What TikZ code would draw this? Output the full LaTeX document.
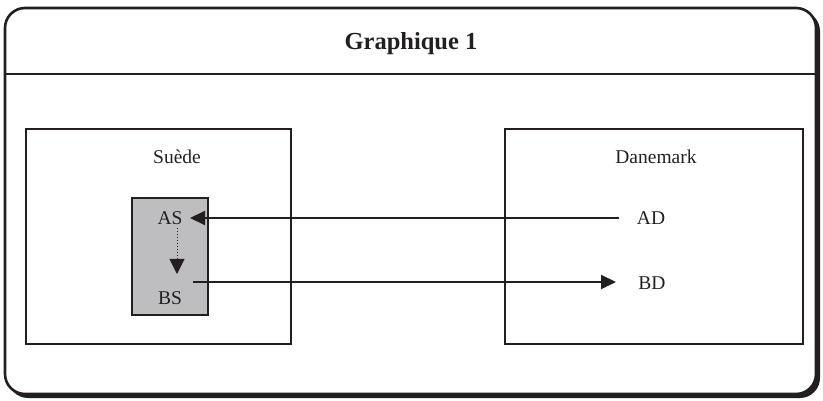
\documentclass[tikz,border=0pt]{standalone}
\usepackage{fontspec}
\setmainfont{Liberation Serif}
\usetikzlibrary{arrows.meta}
\definecolor{ink}{RGB}{35,31,32}
\definecolor{panel}{RGB}{190,190,192}
\begin{document}
\begin{tikzpicture}[x=1pt,y=-1pt,
  frame/.style={draw=ink,line width=2.6pt,rounded corners=20pt},
  region/.style={draw=ink,line width=2pt},
  lbl/.style={font=\fontsize{19.5}{22}\selectfont,text=ink,inner sep=0pt},
  flow/.style={draw=ink,line width=2pt,-{Triangle[length=15pt,width=14pt]}},
  hop/.style={draw=ink,line width=1pt,dotted,-{Triangle[length=15pt,width=15pt]}}]
\useasboundingbox (0,0) rectangle (823,401);
% outer frame with its shadow
\fill[ink,rounded corners=20pt] (8,11) rectangle (820,398);
\draw[frame,fill=white] (5,8) rectangle (816,394);
\draw[ink,line width=2.6pt] (6,74) -- (815,74);
\node[font=\bfseries\fontsize{24.5}{28}\selectfont,text=ink] (title) at (411,44) {Graphique 1};
% country boxes
\draw[region] (26,129) rectangle (291,344);
\draw[region] (505,129) rectangle (803,344);
\node[lbl] (se) at (177,157) {Suède};
\node[lbl] (dk) at (656,157) {Danemark};
% shaded block
\draw[region,fill=panel] (132,198) rectangle (208,315);
\node[lbl] (as) at (170,218) {AS};
\node[lbl] (bs) at (170,298) {BS};
\node[lbl] (ad) at (651,218) {AD};
\node[lbl] (bd) at (652,283) {BD};
\coordinate (asin) at (190,218);
\coordinate (adout) at (619,218);
\coordinate (bsout) at (193,282);
\coordinate (bdin) at (616,282);
\draw[flow] (adout) -- (asin);
\draw[flow] (bsout) -- (bdin);
\draw[hop] (177,228) -- (177,274);
\end{tikzpicture}
\end{document}
